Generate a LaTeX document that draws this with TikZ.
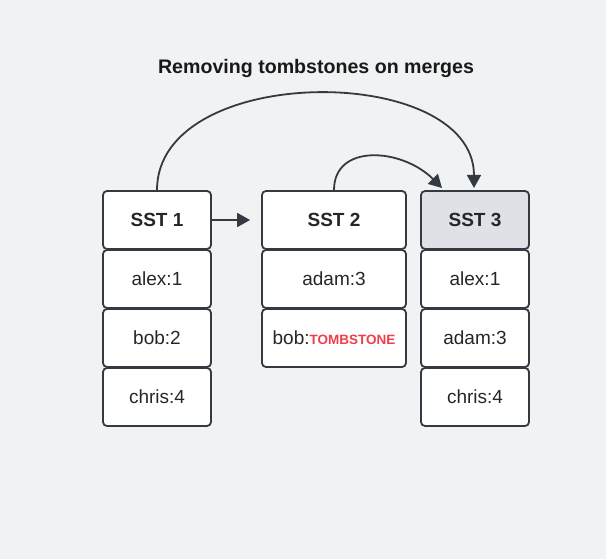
\documentclass[tikz,border=0pt]{standalone}
\usepackage{fontspec}
\setmainfont{Liberation Sans}
\usetikzlibrary{arrows.meta}
\definecolor{bg}{HTML}{F1F2F4}
\definecolor{ink}{HTML}{343A42}
\definecolor{hl}{HTML}{DEE1E6}
\definecolor{tomb}{HTML}{F03E4B}
\begin{document}
\begin{tikzpicture}[x=1pt,y=-1pt,
  cell/.style={draw=ink, line width=1.8pt, rounded corners=4pt, fill=white,
     minimum height=58pt, inner sep=0pt, font=\fontsize{19}{21}\selectfont, text=black!85},
  narrow/.style={cell, minimum width=108pt},
  wide/.style={cell, minimum width=144pt},
  head/.style={font=\fontsize{19}{21}\selectfont\bfseries},
  link/.style={draw=ink, line width=1.8pt, -{Triangle[length=13pt,width=14pt]}}
]
\fill[bg] (0,0) rectangle (606,559);
\useasboundingbox (0,0) rectangle (606,559);
\node[font=\fontsize{19.6}{21}\selectfont\bfseries, text=black!90] (title) at (316,68) {Removing tombstones on merges};
% SST1
\node[narrow, head] (s1) at (157,220) {SST 1};
\node[narrow] (s1a) at (157,279) {alex:1};
\node[narrow] (s1b) at (157,338) {bob:2};
\node[narrow] (s1c) at (157,397) {chris:4};
% SST2
\node[wide, head] (s2) at (334,220) {SST 2};
\node[wide] (s2a) at (334,279) {adam:3};
\node[wide] (s2b) at (334,338) {bob:{\color{tomb}\fontsize{13.5}{14}\selectfont\bfseries TOMBSTONE}};
% SST3
\node[narrow, head, fill=hl] (s3) at (475,220) {SST 3};
\node[narrow] (s3a) at (475,279) {alex:1};
\node[narrow] (s3b) at (475,338) {adam:3};
\node[narrow] (s3c) at (475,397) {chris:4};
% connectors
\coordinate (t3) at (442,188);
\coordinate (t3b) at (474,188);
\draw[link, shorten >=11pt] (s1.east) -- (s2.west);
\draw[link] (s1.north) .. controls (157,62) and (474,62) .. (t3b);
\draw[link] (s2.north) .. controls (334,143) and (402,148) .. (t3);
\end{tikzpicture}
\end{document}
